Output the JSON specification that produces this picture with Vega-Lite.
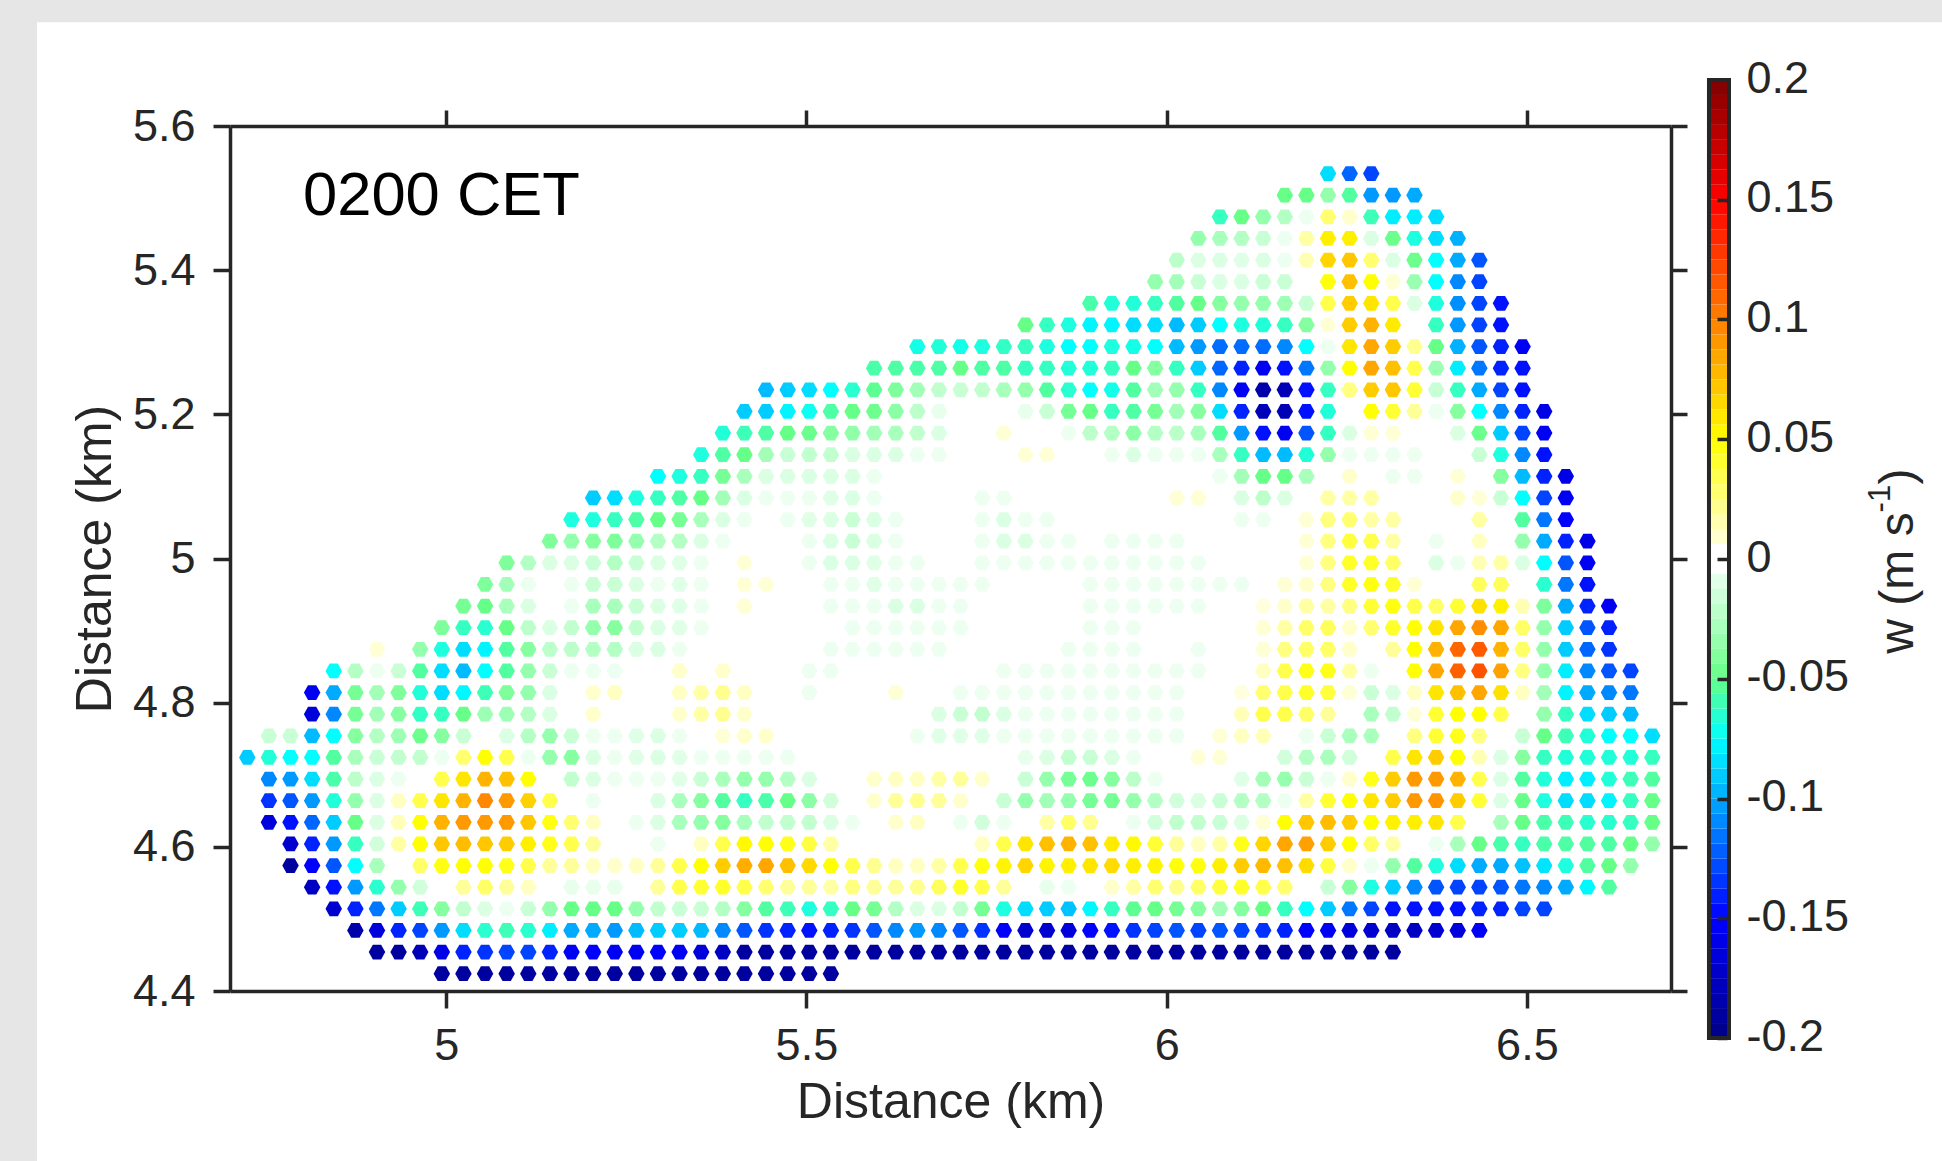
{"$schema":"https://vega.github.io/schema/vega-lite/v6.json","width":1441,"height":865,"autosize":{"type":"none"},"padding":{"left":230,"top":126,"right":271,"bottom":170},"background":"#e6e6e6","config":{"view":{"stroke":null},"font":"Liberation Sans","axis":{"grid":false,"domainColor":"#262626","domainWidth":3.5,"tickColor":"#262626","tickWidth":3.5,"labelColor":"#262626","titleColor":"#262626","labelFont":"Liberation Sans","titleFont":"Liberation Sans","labelFontSize":45,"titleFontSize":50,"titleFontWeight":"normal","labelOverlap":false,"labelFlush":false,"labelExpr":"''+datum.value"}},"resolve":{"scale":{"y":"independent"},"axis":{"x":"independent","y":"independent"}},"layer":[
{"data":{"values":[{"p":"panel"}]},"mark":{"type":"rect","fill":"#ffffff"},"encoding":{"x":{"datum":4.4321,"type":"quantitative","scale":{"domain":[4.7,6.7],"nice":false,"zero":false},"axis":null},"x2":{"datum":7.2},"y":{"datum":5.744,"type":"quantitative","scale":{"domain":[4.4,5.6],"nice":false,"zero":false},"axis":null},"y2":{"datum":4.1}}},
{"data":{"values":[
{"x":4.994,"y":4.424,"w":-0.19},{"x":5.024,"y":4.424,"w":-0.19},{"x":5.054,"y":4.424,"w":-0.19},{"x":5.084,"y":4.424,"w":-0.19},{"x":5.114,"y":4.424,"w":-0.19},{"x":5.144,"y":4.424,"w":-0.19},{"x":5.174,"y":4.424,"w":-0.19},{"x":5.204,"y":4.424,"w":-0.19},{"x":5.234,"y":4.424,"w":-0.19},{"x":5.264,"y":4.424,"w":-0.19},{"x":5.294,"y":4.424,"w":-0.19},{"x":5.324,"y":4.424,"w":-0.19},{"x":5.354,"y":4.424,"w":-0.19},{"x":5.384,"y":4.424,"w":-0.19},{"x":5.414,"y":4.424,"w":-0.19},{"x":5.444,"y":4.424,"w":-0.19},{"x":5.474,"y":4.424,"w":-0.19},{"x":5.504,"y":4.424,"w":-0.19},{"x":5.534,"y":4.424,"w":-0.19},
{"x":4.904,"y":4.454,"w":-0.19},{"x":4.934,"y":4.454,"w":-0.19},{"x":4.964,"y":4.454,"w":-0.18},{"x":4.994,"y":4.454,"w":-0.16},{"x":5.024,"y":4.454,"w":-0.14},{"x":5.054,"y":4.454,"w":-0.135},{"x":5.084,"y":4.454,"w":-0.13},{"x":5.114,"y":4.454,"w":-0.13},{"x":5.144,"y":4.454,"w":-0.14},{"x":5.174,"y":4.454,"w":-0.155},{"x":5.204,"y":4.454,"w":-0.15},{"x":5.234,"y":4.454,"w":-0.155},{"x":5.264,"y":4.454,"w":-0.155},{"x":5.294,"y":4.454,"w":-0.15},{"x":5.324,"y":4.454,"w":-0.155},{"x":5.354,"y":4.454,"w":-0.165},{"x":5.384,"y":4.454,"w":-0.175},{"x":5.414,"y":4.454,"w":-0.19},{"x":5.444,"y":4.454,"w":-0.19},{"x":5.474,"y":4.454,"w":-0.19},{"x":5.504,"y":4.454,"w":-0.19},{"x":5.534,"y":4.454,"w":-0.19},{"x":5.564,"y":4.454,"w":-0.19},{"x":5.594,"y":4.454,"w":-0.19},{"x":5.624,"y":4.454,"w":-0.19},{"x":5.654,"y":4.454,"w":-0.19},{"x":5.684,"y":4.454,"w":-0.19},{"x":5.714,"y":4.454,"w":-0.19},{"x":5.744,"y":4.454,"w":-0.19},{"x":5.774,"y":4.454,"w":-0.19},{"x":5.804,"y":4.454,"w":-0.19},{"x":5.834,"y":4.454,"w":-0.19},{"x":5.864,"y":4.454,"w":-0.19},{"x":5.894,"y":4.454,"w":-0.19},{"x":5.924,"y":4.454,"w":-0.19},{"x":5.954,"y":4.454,"w":-0.19},{"x":5.984,"y":4.454,"w":-0.19},{"x":6.014,"y":4.454,"w":-0.19},{"x":6.044,"y":4.454,"w":-0.19},{"x":6.074,"y":4.454,"w":-0.19},{"x":6.104,"y":4.454,"w":-0.19},{"x":6.134,"y":4.454,"w":-0.19},{"x":6.164,"y":4.454,"w":-0.19},{"x":6.194,"y":4.454,"w":-0.19},{"x":6.224,"y":4.454,"w":-0.19},{"x":6.254,"y":4.454,"w":-0.19},{"x":6.284,"y":4.454,"w":-0.19},{"x":6.314,"y":4.454,"w":-0.19},
{"x":4.874,"y":4.484,"w":-0.185},{"x":4.904,"y":4.484,"w":-0.165},{"x":4.934,"y":4.484,"w":-0.14},{"x":4.964,"y":4.484,"w":-0.13},{"x":4.994,"y":4.484,"w":-0.105},{"x":5.024,"y":4.484,"w":-0.085},{"x":5.054,"y":4.484,"w":-0.065},{"x":5.084,"y":4.484,"w":-0.06},{"x":5.114,"y":4.484,"w":-0.065},{"x":5.144,"y":4.484,"w":-0.08},{"x":5.174,"y":4.484,"w":-0.1},{"x":5.204,"y":4.484,"w":-0.1},{"x":5.234,"y":4.484,"w":-0.105},{"x":5.264,"y":4.484,"w":-0.095},{"x":5.294,"y":4.484,"w":-0.09},{"x":5.324,"y":4.484,"w":-0.09},{"x":5.354,"y":4.484,"w":-0.095},{"x":5.384,"y":4.484,"w":-0.11},{"x":5.414,"y":4.484,"w":-0.125},{"x":5.444,"y":4.484,"w":-0.135},{"x":5.474,"y":4.484,"w":-0.14},{"x":5.504,"y":4.484,"w":-0.145},{"x":5.534,"y":4.484,"w":-0.14},{"x":5.564,"y":4.484,"w":-0.135},{"x":5.594,"y":4.484,"w":-0.125},{"x":5.624,"y":4.484,"w":-0.11},{"x":5.654,"y":4.484,"w":-0.105},{"x":5.684,"y":4.484,"w":-0.11},{"x":5.714,"y":4.484,"w":-0.125},{"x":5.744,"y":4.484,"w":-0.135},{"x":5.774,"y":4.484,"w":-0.15},{"x":5.804,"y":4.484,"w":-0.17},{"x":5.834,"y":4.484,"w":-0.17},{"x":5.864,"y":4.484,"w":-0.165},{"x":5.894,"y":4.484,"w":-0.15},{"x":5.924,"y":4.484,"w":-0.145},{"x":5.954,"y":4.484,"w":-0.135},{"x":5.984,"y":4.484,"w":-0.13},{"x":6.014,"y":4.484,"w":-0.125},{"x":6.044,"y":4.484,"w":-0.13},{"x":6.074,"y":4.484,"w":-0.125},{"x":6.104,"y":4.484,"w":-0.13},{"x":6.134,"y":4.484,"w":-0.135},{"x":6.164,"y":4.484,"w":-0.14},{"x":6.194,"y":4.484,"w":-0.15},{"x":6.224,"y":4.484,"w":-0.155},{"x":6.254,"y":4.484,"w":-0.165},{"x":6.284,"y":4.484,"w":-0.17},{"x":6.314,"y":4.484,"w":-0.175},{"x":6.344,"y":4.484,"w":-0.175},{"x":6.374,"y":4.484,"w":-0.17},{"x":6.404,"y":4.484,"w":-0.165},{"x":6.434,"y":4.484,"w":-0.155},
{"x":4.844,"y":4.514,"w":-0.17},{"x":4.874,"y":4.514,"w":-0.14},{"x":4.904,"y":4.514,"w":-0.115},{"x":4.934,"y":4.514,"w":-0.09},{"x":4.964,"y":4.514,"w":-0.06},{"x":4.994,"y":4.514,"w":-0.04},{"x":5.024,"y":4.514,"w":-0.02},{"x":5.054,"y":4.514,"w":-0.012},{"x":5.084,"y":4.514,"w":-0.006},{"x":5.114,"y":4.514,"w":-0.018},{"x":5.144,"y":4.514,"w":-0.035},{"x":5.174,"y":4.514,"w":-0.05},{"x":5.204,"y":4.514,"w":-0.05},{"x":5.234,"y":4.514,"w":-0.05},{"x":5.264,"y":4.514,"w":-0.035},{"x":5.294,"y":4.514,"w":-0.02},{"x":5.324,"y":4.514,"w":-0.018},{"x":5.354,"y":4.514,"w":-0.018},{"x":5.384,"y":4.514,"w":-0.025},{"x":5.414,"y":4.514,"w":-0.04},{"x":5.444,"y":4.514,"w":-0.055},{"x":5.474,"y":4.514,"w":-0.06},{"x":5.504,"y":4.514,"w":-0.068},{"x":5.534,"y":4.514,"w":-0.062},{"x":5.564,"y":4.514,"w":-0.05},{"x":5.594,"y":4.514,"w":-0.045},{"x":5.624,"y":4.514,"w":-0.025},{"x":5.654,"y":4.514,"w":-0.012},{"x":5.684,"y":4.514,"w":-0.012},{"x":5.714,"y":4.514,"w":-0.02},{"x":5.744,"y":4.514,"w":-0.045},{"x":5.774,"y":4.514,"w":-0.068},{"x":5.804,"y":4.514,"w":-0.085},{"x":5.834,"y":4.514,"w":-0.09},{"x":5.864,"y":4.514,"w":-0.093},{"x":5.894,"y":4.514,"w":-0.077},{"x":5.924,"y":4.514,"w":-0.062},{"x":5.954,"y":4.514,"w":-0.052},{"x":5.984,"y":4.514,"w":-0.05},{"x":6.014,"y":4.514,"w":-0.045},{"x":6.044,"y":4.514,"w":-0.04},{"x":6.074,"y":4.514,"w":-0.03},{"x":6.104,"y":4.514,"w":-0.04},{"x":6.134,"y":4.514,"w":-0.05},{"x":6.164,"y":4.514,"w":-0.062},{"x":6.194,"y":4.514,"w":-0.075},{"x":6.224,"y":4.514,"w":-0.09},{"x":6.254,"y":4.514,"w":-0.115},{"x":6.284,"y":4.514,"w":-0.13},{"x":6.314,"y":4.514,"w":-0.145},{"x":6.344,"y":4.514,"w":-0.145},{"x":6.374,"y":4.514,"w":-0.145},{"x":6.404,"y":4.514,"w":-0.145},{"x":6.434,"y":4.514,"w":-0.14},{"x":6.464,"y":4.514,"w":-0.14},{"x":6.494,"y":4.514,"w":-0.13},{"x":6.524,"y":4.514,"w":-0.13},
{"x":4.814,"y":4.544,"w":-0.175},{"x":4.844,"y":4.544,"w":-0.145},{"x":4.874,"y":4.544,"w":-0.105},{"x":4.904,"y":4.544,"w":-0.065},{"x":4.934,"y":4.544,"w":-0.035},{"x":4.964,"y":4.544,"w":-0.015},{"x":5.024,"y":4.544,"w":0.02},{"x":5.054,"y":4.544,"w":0.03},{"x":5.084,"y":4.544,"w":0.02},{"x":5.114,"y":4.544,"w":0.012},{"x":5.174,"y":4.544,"w":-0.008},{"x":5.204,"y":4.544,"w":-0.008},{"x":5.234,"y":4.544,"w":-0.008},{"x":5.294,"y":4.544,"w":0.02},{"x":5.324,"y":4.544,"w":0.035},{"x":5.354,"y":4.544,"w":0.04},{"x":5.384,"y":4.544,"w":0.042},{"x":5.414,"y":4.544,"w":0.035},{"x":5.444,"y":4.544,"w":0.028},{"x":5.474,"y":4.544,"w":0.02},{"x":5.504,"y":4.544,"w":0.02},{"x":5.534,"y":4.544,"w":0.018},{"x":5.564,"y":4.544,"w":0.025},{"x":5.594,"y":4.544,"w":0.02},{"x":5.624,"y":4.544,"w":0.02},{"x":5.654,"y":4.544,"w":0.022},{"x":5.684,"y":4.544,"w":0.032},{"x":5.714,"y":4.544,"w":0.042},{"x":5.744,"y":4.544,"w":0.035},{"x":5.774,"y":4.544,"w":0.02},{"x":5.834,"y":4.544,"w":-0.008},{"x":5.864,"y":4.544,"w":-0.006},{"x":5.924,"y":4.544,"w":0.01},{"x":5.954,"y":4.544,"w":0.018},{"x":5.984,"y":4.544,"w":0.028},{"x":6.014,"y":4.544,"w":0.022},{"x":6.044,"y":4.544,"w":0.03},{"x":6.074,"y":4.544,"w":0.038},{"x":6.104,"y":4.544,"w":0.042},{"x":6.134,"y":4.544,"w":0.035},{"x":6.164,"y":4.544,"w":0.028},{"x":6.224,"y":4.544,"w":-0.018},{"x":6.254,"y":4.544,"w":-0.04},{"x":6.284,"y":4.544,"w":-0.068},{"x":6.314,"y":4.544,"w":-0.09},{"x":6.344,"y":4.544,"w":-0.11},{"x":6.374,"y":4.544,"w":-0.125},{"x":6.404,"y":4.544,"w":-0.13},{"x":6.434,"y":4.544,"w":-0.13},{"x":6.464,"y":4.544,"w":-0.125},{"x":6.494,"y":4.544,"w":-0.115},{"x":6.524,"y":4.544,"w":-0.11},{"x":6.554,"y":4.544,"w":-0.1},{"x":6.584,"y":4.544,"w":-0.077},{"x":6.614,"y":4.544,"w":-0.055},
{"x":4.784,"y":4.574,"w":-0.19},{"x":4.814,"y":4.574,"w":-0.15},{"x":4.844,"y":4.574,"w":-0.125},{"x":4.874,"y":4.574,"w":-0.075},{"x":4.904,"y":4.574,"w":-0.028},{"x":4.964,"y":4.574,"w":0.03},{"x":4.994,"y":4.574,"w":0.047},{"x":5.024,"y":4.574,"w":0.05},{"x":5.054,"y":4.574,"w":0.05},{"x":5.084,"y":4.574,"w":0.045},{"x":5.114,"y":4.574,"w":0.035},{"x":5.144,"y":4.574,"w":0.02},{"x":5.174,"y":4.574,"w":0.02},{"x":5.204,"y":4.574,"w":0.012},{"x":5.234,"y":4.574,"w":0.01},{"x":5.264,"y":4.574,"w":0.012},{"x":5.294,"y":4.574,"w":0.02},{"x":5.324,"y":4.574,"w":0.035},{"x":5.354,"y":4.574,"w":0.05},{"x":5.384,"y":4.574,"w":0.07},{"x":5.414,"y":4.574,"w":0.082},{"x":5.444,"y":4.574,"w":0.085},{"x":5.474,"y":4.574,"w":0.075},{"x":5.504,"y":4.574,"w":0.065},{"x":5.534,"y":4.574,"w":0.05},{"x":5.564,"y":4.574,"w":0.035},{"x":5.594,"y":4.574,"w":0.022},{"x":5.624,"y":4.574,"w":0.012},{"x":5.654,"y":4.574,"w":0.012},{"x":5.684,"y":4.574,"w":0.018},{"x":5.714,"y":4.574,"w":0.035},{"x":5.744,"y":4.574,"w":0.047},{"x":5.774,"y":4.574,"w":0.054},{"x":5.804,"y":4.574,"w":0.066},{"x":5.834,"y":4.574,"w":0.054},{"x":5.864,"y":4.574,"w":0.056},{"x":5.894,"y":4.574,"w":0.06},{"x":5.924,"y":4.574,"w":0.064},{"x":5.954,"y":4.574,"w":0.056},{"x":5.984,"y":4.574,"w":0.054},{"x":6.014,"y":4.574,"w":0.048},{"x":6.044,"y":4.574,"w":0.048},{"x":6.074,"y":4.574,"w":0.056},{"x":6.104,"y":4.574,"w":0.07},{"x":6.134,"y":4.574,"w":0.077},{"x":6.164,"y":4.574,"w":0.075},{"x":6.194,"y":4.574,"w":0.064},{"x":6.224,"y":4.574,"w":0.037},{"x":6.254,"y":4.574,"w":0.01},{"x":6.284,"y":4.574,"w":-0.006},{"x":6.314,"y":4.574,"w":-0.035},{"x":6.344,"y":4.574,"w":-0.055},{"x":6.374,"y":4.574,"w":-0.068},{"x":6.404,"y":4.574,"w":-0.085},{"x":6.434,"y":4.574,"w":-0.1},{"x":6.464,"y":4.574,"w":-0.1},{"x":6.494,"y":4.574,"w":-0.093},{"x":6.524,"y":4.574,"w":-0.083},{"x":6.554,"y":4.574,"w":-0.068},{"x":6.584,"y":4.574,"w":-0.055},{"x":6.614,"y":4.574,"w":-0.05},{"x":6.644,"y":4.574,"w":-0.035},
{"x":4.784,"y":4.604,"w":-0.17},{"x":4.814,"y":4.604,"w":-0.14},{"x":4.844,"y":4.604,"w":-0.105},{"x":4.874,"y":4.604,"w":-0.062},{"x":4.904,"y":4.604,"w":-0.015},{"x":4.934,"y":4.604,"w":0.018},{"x":4.964,"y":4.604,"w":0.05},{"x":4.994,"y":4.604,"w":0.072},{"x":5.024,"y":4.604,"w":0.076},{"x":5.054,"y":4.604,"w":0.072},{"x":5.084,"y":4.604,"w":0.07},{"x":5.114,"y":4.604,"w":0.056},{"x":5.144,"y":4.604,"w":0.045},{"x":5.174,"y":4.604,"w":0.035},{"x":5.204,"y":4.604,"w":0.02},{"x":5.294,"y":4.604,"w":-0.006},{"x":5.354,"y":4.604,"w":0.012},{"x":5.384,"y":4.604,"w":0.035},{"x":5.414,"y":4.604,"w":0.052},{"x":5.444,"y":4.604,"w":0.05},{"x":5.474,"y":4.604,"w":0.045},{"x":5.504,"y":4.604,"w":0.037},{"x":5.534,"y":4.604,"w":0.018},{"x":5.744,"y":4.604,"w":0.012},{"x":5.774,"y":4.604,"w":0.035},{"x":5.804,"y":4.604,"w":0.06},{"x":5.834,"y":4.604,"w":0.075},{"x":5.864,"y":4.604,"w":0.08},{"x":5.894,"y":4.604,"w":0.075},{"x":5.924,"y":4.604,"w":0.058},{"x":5.954,"y":4.604,"w":0.052},{"x":5.984,"y":4.604,"w":0.04},{"x":6.014,"y":4.604,"w":0.02},{"x":6.044,"y":4.604,"w":0.012},{"x":6.074,"y":4.604,"w":0.018},{"x":6.104,"y":4.604,"w":0.045},{"x":6.134,"y":4.604,"w":0.066},{"x":6.164,"y":4.604,"w":0.085},{"x":6.194,"y":4.604,"w":0.087},{"x":6.224,"y":4.604,"w":0.07},{"x":6.254,"y":4.604,"w":0.05},{"x":6.284,"y":4.604,"w":0.03},{"x":6.314,"y":4.604,"w":0.018},{"x":6.374,"y":4.604,"w":-0.006},{"x":6.404,"y":4.604,"w":-0.028},{"x":6.434,"y":4.604,"w":-0.05},{"x":6.464,"y":4.604,"w":-0.057},{"x":6.494,"y":4.604,"w":-0.062},{"x":6.524,"y":4.604,"w":-0.057},{"x":6.554,"y":4.604,"w":-0.056},{"x":6.584,"y":4.604,"w":-0.055},{"x":6.614,"y":4.604,"w":-0.056},{"x":6.644,"y":4.604,"w":-0.05},{"x":6.674,"y":4.604,"w":-0.035},
{"x":4.754,"y":4.634,"w":-0.165},{"x":4.784,"y":4.634,"w":-0.145},{"x":4.814,"y":4.634,"w":-0.12},{"x":4.844,"y":4.634,"w":-0.09},{"x":4.874,"y":4.634,"w":-0.05},{"x":4.904,"y":4.634,"w":-0.012},{"x":4.934,"y":4.634,"w":0.014},{"x":4.964,"y":4.634,"w":0.05},{"x":4.994,"y":4.634,"w":0.08},{"x":5.024,"y":4.634,"w":0.09},{"x":5.054,"y":4.634,"w":0.09},{"x":5.084,"y":4.634,"w":0.09},{"x":5.114,"y":4.634,"w":0.072},{"x":5.144,"y":4.634,"w":0.047},{"x":5.174,"y":4.634,"w":0.028},{"x":5.204,"y":4.634,"w":0.012},{"x":5.264,"y":4.634,"w":-0.006},{"x":5.294,"y":4.634,"w":-0.012},{"x":5.324,"y":4.634,"w":-0.028},{"x":5.354,"y":4.634,"w":-0.035},{"x":5.384,"y":4.634,"w":-0.04},{"x":5.414,"y":4.634,"w":-0.028},{"x":5.444,"y":4.634,"w":-0.02},{"x":5.474,"y":4.634,"w":-0.02},{"x":5.504,"y":4.634,"w":-0.02},{"x":5.534,"y":4.634,"w":-0.012},{"x":5.564,"y":4.634,"w":-0.006},{"x":5.624,"y":4.634,"w":0.01},{"x":5.654,"y":4.634,"w":0.012},{"x":5.714,"y":4.634,"w":-0.006},{"x":5.744,"y":4.634,"w":-0.015},{"x":5.774,"y":4.634,"w":-0.006},{"x":5.834,"y":4.634,"w":0.018},{"x":5.864,"y":4.634,"w":0.03},{"x":5.894,"y":4.634,"w":0.022},{"x":5.954,"y":4.634,"w":-0.006},{"x":5.984,"y":4.634,"w":-0.015},{"x":6.014,"y":4.634,"w":-0.02},{"x":6.044,"y":4.634,"w":-0.02},{"x":6.074,"y":4.634,"w":-0.018},{"x":6.104,"y":4.634,"w":-0.012},{"x":6.134,"y":4.634,"w":0.008},{"x":6.164,"y":4.634,"w":0.05},{"x":6.194,"y":4.634,"w":0.072},{"x":6.224,"y":4.634,"w":0.076},{"x":6.254,"y":4.634,"w":0.07},{"x":6.284,"y":4.634,"w":0.05},{"x":6.314,"y":4.634,"w":0.055},{"x":6.344,"y":4.634,"w":0.056},{"x":6.374,"y":4.634,"w":0.06},{"x":6.404,"y":4.634,"w":0.035},{"x":6.464,"y":4.634,"w":-0.028},{"x":6.494,"y":4.634,"w":-0.05},{"x":6.524,"y":4.634,"w":-0.057},{"x":6.554,"y":4.634,"w":-0.06},{"x":6.584,"y":4.634,"w":-0.065},{"x":6.614,"y":4.634,"w":-0.065},{"x":6.644,"y":4.634,"w":-0.062},{"x":6.674,"y":4.634,"w":-0.05},
{"x":4.754,"y":4.664,"w":-0.135},{"x":4.784,"y":4.664,"w":-0.125},{"x":4.814,"y":4.664,"w":-0.105},{"x":4.844,"y":4.664,"w":-0.067},{"x":4.874,"y":4.664,"w":-0.035},{"x":4.904,"y":4.664,"w":-0.012},{"x":4.934,"y":4.664,"w":0.012},{"x":4.964,"y":4.664,"w":0.035},{"x":4.994,"y":4.664,"w":0.06},{"x":5.024,"y":4.664,"w":0.08},{"x":5.054,"y":4.664,"w":0.097},{"x":5.084,"y":4.664,"w":0.09},{"x":5.114,"y":4.664,"w":0.068},{"x":5.144,"y":4.664,"w":0.035},{"x":5.204,"y":4.664,"w":-0.006},{"x":5.294,"y":4.664,"w":-0.012},{"x":5.324,"y":4.664,"w":-0.028},{"x":5.354,"y":4.664,"w":-0.04},{"x":5.384,"y":4.664,"w":-0.055},{"x":5.414,"y":4.664,"w":-0.062},{"x":5.444,"y":4.664,"w":-0.057},{"x":5.474,"y":4.664,"w":-0.05},{"x":5.504,"y":4.664,"w":-0.038},{"x":5.534,"y":4.664,"w":-0.015},{"x":5.594,"y":4.664,"w":0.01},{"x":5.624,"y":4.664,"w":0.02},{"x":5.654,"y":4.664,"w":0.022},{"x":5.684,"y":4.664,"w":0.02},{"x":5.714,"y":4.664,"w":0.01},{"x":5.774,"y":4.664,"w":-0.018},{"x":5.804,"y":4.664,"w":-0.035},{"x":5.834,"y":4.664,"w":-0.03},{"x":5.864,"y":4.664,"w":-0.035},{"x":5.894,"y":4.664,"w":-0.045},{"x":5.924,"y":4.664,"w":-0.045},{"x":5.954,"y":4.664,"w":-0.035},{"x":5.984,"y":4.664,"w":-0.025},{"x":6.014,"y":4.664,"w":-0.015},{"x":6.044,"y":4.664,"w":-0.012},{"x":6.074,"y":4.664,"w":-0.018},{"x":6.104,"y":4.664,"w":-0.025},{"x":6.134,"y":4.664,"w":-0.025},{"x":6.164,"y":4.664,"w":-0.006},{"x":6.194,"y":4.664,"w":0.018},{"x":6.224,"y":4.664,"w":0.04},{"x":6.254,"y":4.664,"w":0.05},{"x":6.284,"y":4.664,"w":0.06},{"x":6.314,"y":4.664,"w":0.07},{"x":6.344,"y":4.664,"w":0.09},{"x":6.374,"y":4.664,"w":0.092},{"x":6.404,"y":4.664,"w":0.07},{"x":6.434,"y":4.664,"w":0.04},{"x":6.464,"y":4.664,"w":-0.012},{"x":6.494,"y":4.664,"w":-0.05},{"x":6.524,"y":4.664,"w":-0.068},{"x":6.554,"y":4.664,"w":-0.085},{"x":6.584,"y":4.664,"w":-0.085},{"x":6.614,"y":4.664,"w":-0.078},{"x":6.644,"y":4.664,"w":-0.062},{"x":6.674,"y":4.664,"w":-0.05},
{"x":4.754,"y":4.694,"w":-0.11},{"x":4.784,"y":4.694,"w":-0.105},{"x":4.814,"y":4.694,"w":-0.085},{"x":4.844,"y":4.694,"w":-0.057},{"x":4.874,"y":4.694,"w":-0.022},{"x":4.904,"y":4.694,"w":-0.012},{"x":4.934,"y":4.694,"w":-0.006},{"x":4.994,"y":4.694,"w":0.035},{"x":5.024,"y":4.694,"w":0.06},{"x":5.054,"y":4.694,"w":0.08},{"x":5.084,"y":4.694,"w":0.075},{"x":5.114,"y":4.694,"w":0.05},{"x":5.174,"y":4.694,"w":-0.02},{"x":5.204,"y":4.694,"w":-0.012},{"x":5.234,"y":4.694,"w":-0.006},{"x":5.264,"y":4.694,"w":-0.006},{"x":5.294,"y":4.694,"w":-0.006},{"x":5.324,"y":4.694,"w":-0.01},{"x":5.354,"y":4.694,"w":-0.018},{"x":5.384,"y":4.694,"w":-0.028},{"x":5.414,"y":4.694,"w":-0.035},{"x":5.444,"y":4.694,"w":-0.035},{"x":5.474,"y":4.694,"w":-0.025},{"x":5.504,"y":4.694,"w":-0.012},{"x":5.594,"y":4.694,"w":0.01},{"x":5.624,"y":4.694,"w":0.012},{"x":5.654,"y":4.694,"w":0.012},{"x":5.684,"y":4.694,"w":0.018},{"x":5.714,"y":4.694,"w":0.02},{"x":5.744,"y":4.694,"w":0.01},{"x":5.804,"y":4.694,"w":-0.018},{"x":5.834,"y":4.694,"w":-0.035},{"x":5.864,"y":4.694,"w":-0.045},{"x":5.894,"y":4.694,"w":-0.048},{"x":5.924,"y":4.694,"w":-0.04},{"x":5.954,"y":4.694,"w":-0.022},{"x":5.984,"y":4.694,"w":-0.006},{"x":6.104,"y":4.694,"w":-0.01},{"x":6.134,"y":4.694,"w":-0.03},{"x":6.164,"y":4.694,"w":-0.035},{"x":6.194,"y":4.694,"w":-0.018},{"x":6.224,"y":4.694,"w":-0.006},{"x":6.254,"y":4.694,"w":0.01},{"x":6.284,"y":4.694,"w":0.045},{"x":6.314,"y":4.694,"w":0.07},{"x":6.344,"y":4.694,"w":0.09},{"x":6.374,"y":4.694,"w":0.09},{"x":6.404,"y":4.694,"w":0.08},{"x":6.434,"y":4.694,"w":0.035},{"x":6.464,"y":4.694,"w":-0.012},{"x":6.494,"y":4.694,"w":-0.055},{"x":6.524,"y":4.694,"w":-0.067},{"x":6.554,"y":4.694,"w":-0.08},{"x":6.584,"y":4.694,"w":-0.08},{"x":6.614,"y":4.694,"w":-0.067},{"x":6.644,"y":4.694,"w":-0.06},{"x":6.674,"y":4.694,"w":-0.055},
{"x":4.724,"y":4.724,"w":-0.09},{"x":4.754,"y":4.724,"w":-0.067},{"x":4.784,"y":4.724,"w":-0.075},{"x":4.814,"y":4.724,"w":-0.075},{"x":4.844,"y":4.724,"w":-0.055},{"x":4.874,"y":4.724,"w":-0.028},{"x":4.904,"y":4.724,"w":-0.018},{"x":4.934,"y":4.724,"w":-0.02},{"x":4.964,"y":4.724,"w":-0.02},{"x":4.994,"y":4.724,"w":-0.006},{"x":5.024,"y":4.724,"w":0.028},{"x":5.054,"y":4.724,"w":0.05},{"x":5.084,"y":4.724,"w":0.035},{"x":5.114,"y":4.724,"w":-0.006},{"x":5.144,"y":4.724,"w":-0.035},{"x":5.174,"y":4.724,"w":-0.04},{"x":5.204,"y":4.724,"w":-0.012},{"x":5.234,"y":4.724,"w":-0.006},{"x":5.264,"y":4.724,"w":-0.01},{"x":5.294,"y":4.724,"w":-0.012},{"x":5.324,"y":4.724,"w":-0.01},{"x":5.354,"y":4.724,"w":-0.006},{"x":5.384,"y":4.724,"w":-0.006},{"x":5.414,"y":4.724,"w":-0.006},{"x":5.444,"y":4.724,"w":-0.006},{"x":5.474,"y":4.724,"w":-0.006},{"x":5.804,"y":4.724,"w":-0.008},{"x":5.834,"y":4.724,"w":-0.012},{"x":5.864,"y":4.724,"w":-0.02},{"x":5.894,"y":4.724,"w":-0.018},{"x":5.924,"y":4.724,"w":-0.012},{"x":5.954,"y":4.724,"w":-0.006},{"x":6.044,"y":4.724,"w":0.008},{"x":6.074,"y":4.724,"w":0.008},{"x":6.164,"y":4.724,"w":-0.015},{"x":6.194,"y":4.724,"w":-0.025},{"x":6.224,"y":4.724,"w":-0.028},{"x":6.254,"y":4.724,"w":-0.015},{"x":6.314,"y":4.724,"w":0.035},{"x":6.344,"y":4.724,"w":0.06},{"x":6.374,"y":4.724,"w":0.07},{"x":6.404,"y":4.724,"w":0.05},{"x":6.434,"y":4.724,"w":0.015},{"x":6.464,"y":4.724,"w":-0.012},{"x":6.494,"y":4.724,"w":-0.04},{"x":6.524,"y":4.724,"w":-0.062},{"x":6.554,"y":4.724,"w":-0.067},{"x":6.584,"y":4.724,"w":-0.067},{"x":6.614,"y":4.724,"w":-0.067},{"x":6.644,"y":4.724,"w":-0.067},{"x":6.674,"y":4.724,"w":-0.062},
{"x":4.754,"y":4.754,"w":-0.018},{"x":4.784,"y":4.754,"w":-0.018},{"x":4.814,"y":4.754,"w":-0.095},{"x":4.844,"y":4.754,"w":-0.075},{"x":4.874,"y":4.754,"w":-0.04},{"x":4.904,"y":4.754,"w":-0.025},{"x":4.934,"y":4.754,"w":-0.032},{"x":4.964,"y":4.754,"w":-0.048},{"x":4.994,"y":4.754,"w":-0.04},{"x":5.024,"y":4.754,"w":-0.018},{"x":5.084,"y":4.754,"w":-0.012},{"x":5.114,"y":4.754,"w":-0.025},{"x":5.144,"y":4.754,"w":-0.035},{"x":5.174,"y":4.754,"w":-0.018},{"x":5.204,"y":4.754,"w":-0.006},{"x":5.234,"y":4.754,"w":-0.006},{"x":5.264,"y":4.754,"w":-0.01},{"x":5.294,"y":4.754,"w":-0.012},{"x":5.324,"y":4.754,"w":-0.006},{"x":5.384,"y":4.754,"w":0.008},{"x":5.414,"y":4.754,"w":0.01},{"x":5.444,"y":4.754,"w":0.01},{"x":5.654,"y":4.754,"w":-0.006},{"x":5.684,"y":4.754,"w":-0.01},{"x":5.714,"y":4.754,"w":-0.01},{"x":5.744,"y":4.754,"w":-0.01},{"x":5.774,"y":4.754,"w":-0.006},{"x":5.804,"y":4.754,"w":-0.006},{"x":5.834,"y":4.754,"w":-0.006},{"x":5.864,"y":4.754,"w":-0.006},{"x":5.894,"y":4.754,"w":-0.006},{"x":5.924,"y":4.754,"w":-0.006},{"x":5.954,"y":4.754,"w":-0.006},{"x":5.984,"y":4.754,"w":-0.006},{"x":6.014,"y":4.754,"w":-0.006},{"x":6.074,"y":4.754,"w":0.008},{"x":6.104,"y":4.754,"w":0.012},{"x":6.134,"y":4.754,"w":0.014},{"x":6.194,"y":4.754,"w":-0.006},{"x":6.224,"y":4.754,"w":-0.018},{"x":6.254,"y":4.754,"w":-0.028},{"x":6.284,"y":4.754,"w":-0.028},{"x":6.344,"y":4.754,"w":0.025},{"x":6.374,"y":4.754,"w":0.04},{"x":6.404,"y":4.754,"w":0.045},{"x":6.434,"y":4.754,"w":0.025},{"x":6.494,"y":4.754,"w":-0.018},{"x":6.524,"y":4.754,"w":-0.05},{"x":6.554,"y":4.754,"w":-0.06},{"x":6.584,"y":4.754,"w":-0.067},{"x":6.614,"y":4.754,"w":-0.075},{"x":6.644,"y":4.754,"w":-0.075},{"x":6.674,"y":4.754,"w":-0.085},
{"x":4.814,"y":4.784,"w":-0.165},{"x":4.844,"y":4.784,"w":-0.11},{"x":4.874,"y":4.784,"w":-0.045},{"x":4.904,"y":4.784,"w":-0.03},{"x":4.934,"y":4.784,"w":-0.04},{"x":4.964,"y":4.784,"w":-0.063},{"x":4.994,"y":4.784,"w":-0.062},{"x":5.024,"y":4.784,"w":-0.05},{"x":5.054,"y":4.784,"w":-0.032},{"x":5.084,"y":4.784,"w":-0.032},{"x":5.114,"y":4.784,"w":-0.025},{"x":5.144,"y":4.784,"w":-0.012},{"x":5.204,"y":4.784,"w":0.01},{"x":5.324,"y":4.784,"w":0.01},{"x":5.354,"y":4.784,"w":0.018},{"x":5.384,"y":4.784,"w":0.022},{"x":5.414,"y":4.784,"w":0.01},{"x":5.684,"y":4.784,"w":-0.012},{"x":5.714,"y":4.784,"w":-0.018},{"x":5.744,"y":4.784,"w":-0.02},{"x":5.774,"y":4.784,"w":-0.012},{"x":5.804,"y":4.784,"w":-0.006},{"x":5.834,"y":4.784,"w":-0.006},{"x":5.864,"y":4.784,"w":-0.006},{"x":5.894,"y":4.784,"w":-0.006},{"x":5.924,"y":4.784,"w":-0.006},{"x":5.954,"y":4.784,"w":-0.006},{"x":5.984,"y":4.784,"w":-0.006},{"x":6.014,"y":4.784,"w":-0.006},{"x":6.104,"y":4.784,"w":0.014},{"x":6.134,"y":4.784,"w":0.035},{"x":6.164,"y":4.784,"w":0.035},{"x":6.194,"y":4.784,"w":0.03},{"x":6.224,"y":4.784,"w":0.02},{"x":6.284,"y":4.784,"w":-0.028},{"x":6.314,"y":4.784,"w":-0.02},{"x":6.344,"y":4.784,"w":0.008},{"x":6.374,"y":4.784,"w":0.04},{"x":6.404,"y":4.784,"w":0.05},{"x":6.434,"y":4.784,"w":0.05},{"x":6.464,"y":4.784,"w":0.035},{"x":6.524,"y":4.784,"w":-0.035},{"x":6.554,"y":4.784,"w":-0.062},{"x":6.584,"y":4.784,"w":-0.085},{"x":6.614,"y":4.784,"w":-0.09},{"x":6.644,"y":4.784,"w":-0.095},
{"x":4.814,"y":4.814,"w":-0.155},{"x":4.844,"y":4.814,"w":-0.1},{"x":4.874,"y":4.814,"w":-0.045},{"x":4.904,"y":4.814,"w":-0.03},{"x":4.934,"y":4.814,"w":-0.042},{"x":4.964,"y":4.814,"w":-0.067},{"x":4.994,"y":4.814,"w":-0.085},{"x":5.024,"y":4.814,"w":-0.077},{"x":5.054,"y":4.814,"w":-0.06},{"x":5.084,"y":4.814,"w":-0.042},{"x":5.114,"y":4.814,"w":-0.035},{"x":5.144,"y":4.814,"w":-0.012},{"x":5.204,"y":4.814,"w":0.01},{"x":5.234,"y":4.814,"w":0.012},{"x":5.324,"y":4.814,"w":0.012},{"x":5.354,"y":4.814,"w":0.018},{"x":5.384,"y":4.814,"w":0.022},{"x":5.414,"y":4.814,"w":0.012},{"x":5.504,"y":4.814,"w":-0.006},{"x":5.624,"y":4.814,"w":0.008},{"x":5.714,"y":4.814,"w":-0.006},{"x":5.744,"y":4.814,"w":-0.006},{"x":5.774,"y":4.814,"w":-0.006},{"x":5.804,"y":4.814,"w":-0.006},{"x":5.834,"y":4.814,"w":-0.006},{"x":5.864,"y":4.814,"w":-0.006},{"x":5.894,"y":4.814,"w":-0.006},{"x":5.924,"y":4.814,"w":-0.006},{"x":5.954,"y":4.814,"w":-0.006},{"x":5.984,"y":4.814,"w":-0.006},{"x":6.014,"y":4.814,"w":-0.006},{"x":6.104,"y":4.814,"w":0.006},{"x":6.134,"y":4.814,"w":0.028},{"x":6.164,"y":4.814,"w":0.035},{"x":6.194,"y":4.814,"w":0.042},{"x":6.224,"y":4.814,"w":0.038},{"x":6.254,"y":4.814,"w":0.008},{"x":6.284,"y":4.814,"w":-0.018},{"x":6.314,"y":4.814,"w":-0.012},{"x":6.344,"y":4.814,"w":0.012},{"x":6.374,"y":4.814,"w":0.06},{"x":6.404,"y":4.814,"w":0.075},{"x":6.434,"y":4.814,"w":0.085},{"x":6.464,"y":4.814,"w":0.062},{"x":6.494,"y":4.814,"w":0.012},{"x":6.524,"y":4.814,"w":-0.03},{"x":6.554,"y":4.814,"w":-0.078},{"x":6.584,"y":4.814,"w":-0.1},{"x":6.614,"y":4.814,"w":-0.11},{"x":6.644,"y":4.814,"w":-0.115},
{"x":4.844,"y":4.844,"w":-0.075},{"x":4.874,"y":4.844,"w":-0.025},{"x":4.904,"y":4.844,"w":-0.006},{"x":4.934,"y":4.844,"w":-0.018},{"x":4.964,"y":4.844,"w":-0.055},{"x":4.994,"y":4.844,"w":-0.085},{"x":5.024,"y":4.844,"w":-0.095},{"x":5.054,"y":4.844,"w":-0.075},{"x":5.084,"y":4.844,"w":-0.055},{"x":5.114,"y":4.844,"w":-0.035},{"x":5.144,"y":4.844,"w":-0.018},{"x":5.174,"y":4.844,"w":-0.006},{"x":5.204,"y":4.844,"w":-0.006},{"x":5.234,"y":4.844,"w":-0.006},{"x":5.324,"y":4.844,"w":0.01},{"x":5.384,"y":4.844,"w":0.01},{"x":5.504,"y":4.844,"w":-0.006},{"x":5.534,"y":4.844,"w":-0.006},{"x":5.774,"y":4.844,"w":-0.006},{"x":5.804,"y":4.844,"w":-0.006},{"x":5.834,"y":4.844,"w":-0.006},{"x":5.864,"y":4.844,"w":-0.006},{"x":5.894,"y":4.844,"w":-0.006},{"x":5.924,"y":4.844,"w":-0.006},{"x":5.954,"y":4.844,"w":-0.006},{"x":5.984,"y":4.844,"w":-0.006},{"x":6.014,"y":4.844,"w":-0.006},{"x":6.044,"y":4.844,"w":-0.006},{"x":6.134,"y":4.844,"w":0.012},{"x":6.164,"y":4.844,"w":0.035},{"x":6.194,"y":4.844,"w":0.045},{"x":6.224,"y":4.844,"w":0.045},{"x":6.254,"y":4.844,"w":0.018},{"x":6.284,"y":4.844,"w":-0.006},{"x":6.344,"y":4.844,"w":0.05},{"x":6.374,"y":4.844,"w":0.085},{"x":6.404,"y":4.844,"w":0.112},{"x":6.434,"y":4.844,"w":0.118},{"x":6.464,"y":4.844,"w":0.087},{"x":6.494,"y":4.844,"w":0.025},{"x":6.524,"y":4.844,"w":-0.035},{"x":6.554,"y":4.844,"w":-0.08},{"x":6.584,"y":4.844,"w":-0.11},{"x":6.614,"y":4.844,"w":-0.125},{"x":6.644,"y":4.844,"w":-0.13},
{"x":4.904,"y":4.874,"w":0.008},{"x":4.964,"y":4.874,"w":-0.035},{"x":4.994,"y":4.874,"w":-0.068},{"x":5.024,"y":4.874,"w":-0.085},{"x":5.054,"y":4.874,"w":-0.078},{"x":5.084,"y":4.874,"w":-0.055},{"x":5.114,"y":4.874,"w":-0.04},{"x":5.144,"y":4.874,"w":-0.022},{"x":5.174,"y":4.874,"w":-0.022},{"x":5.204,"y":4.874,"w":-0.025},{"x":5.234,"y":4.874,"w":-0.025},{"x":5.264,"y":4.874,"w":-0.012},{"x":5.294,"y":4.874,"w":-0.012},{"x":5.324,"y":4.874,"w":-0.006},{"x":5.534,"y":4.874,"w":-0.006},{"x":5.564,"y":4.874,"w":-0.006},{"x":5.594,"y":4.874,"w":-0.006},{"x":5.624,"y":4.874,"w":-0.006},{"x":5.654,"y":4.874,"w":-0.006},{"x":5.684,"y":4.874,"w":-0.006},{"x":5.864,"y":4.874,"w":-0.006},{"x":5.894,"y":4.874,"w":-0.006},{"x":5.924,"y":4.874,"w":-0.006},{"x":5.954,"y":4.874,"w":-0.006},{"x":6.044,"y":4.874,"w":-0.006},{"x":6.134,"y":4.874,"w":0.008},{"x":6.164,"y":4.874,"w":0.025},{"x":6.194,"y":4.874,"w":0.03},{"x":6.224,"y":4.874,"w":0.03},{"x":6.254,"y":4.874,"w":0.01},{"x":6.314,"y":4.874,"w":0.02},{"x":6.344,"y":4.874,"w":0.05},{"x":6.374,"y":4.874,"w":0.08},{"x":6.404,"y":4.874,"w":0.11},{"x":6.434,"y":4.874,"w":0.115},{"x":6.464,"y":4.874,"w":0.08},{"x":6.494,"y":4.874,"w":0.03},{"x":6.524,"y":4.874,"w":-0.035},{"x":6.554,"y":4.874,"w":-0.09},{"x":6.584,"y":4.874,"w":-0.12},{"x":6.614,"y":4.874,"w":-0.135},
{"x":4.994,"y":4.904,"w":-0.042},{"x":5.024,"y":4.904,"w":-0.062},{"x":5.054,"y":4.904,"w":-0.065},{"x":5.084,"y":4.904,"w":-0.05},{"x":5.114,"y":4.904,"w":-0.022},{"x":5.144,"y":4.904,"w":-0.012},{"x":5.174,"y":4.904,"w":-0.02},{"x":5.204,"y":4.904,"w":-0.035},{"x":5.234,"y":4.904,"w":-0.04},{"x":5.264,"y":4.904,"w":-0.02},{"x":5.294,"y":4.904,"w":-0.012},{"x":5.324,"y":4.904,"w":-0.01},{"x":5.354,"y":4.904,"w":-0.006},{"x":5.564,"y":4.904,"w":-0.006},{"x":5.594,"y":4.904,"w":-0.006},{"x":5.624,"y":4.904,"w":-0.006},{"x":5.654,"y":4.904,"w":-0.006},{"x":5.684,"y":4.904,"w":-0.006},{"x":5.714,"y":4.904,"w":-0.006},{"x":5.894,"y":4.904,"w":-0.006},{"x":5.924,"y":4.904,"w":-0.006},{"x":5.954,"y":4.904,"w":-0.006},{"x":6.134,"y":4.904,"w":0.008},{"x":6.164,"y":4.904,"w":0.018},{"x":6.194,"y":4.904,"w":0.03},{"x":6.224,"y":4.904,"w":0.032},{"x":6.254,"y":4.904,"w":0.01},{"x":6.284,"y":4.904,"w":0.028},{"x":6.314,"y":4.904,"w":0.042},{"x":6.344,"y":4.904,"w":0.05},{"x":6.374,"y":4.904,"w":0.06},{"x":6.404,"y":4.904,"w":0.085},{"x":6.434,"y":4.904,"w":0.095},{"x":6.464,"y":4.904,"w":0.085},{"x":6.494,"y":4.904,"w":0.03},{"x":6.524,"y":4.904,"w":-0.035},{"x":6.554,"y":4.904,"w":-0.09},{"x":6.584,"y":4.904,"w":-0.125},{"x":6.614,"y":4.904,"w":-0.14},
{"x":5.024,"y":4.934,"w":-0.045},{"x":5.054,"y":4.934,"w":-0.05},{"x":5.084,"y":4.934,"w":-0.028},{"x":5.114,"y":4.934,"w":-0.012},{"x":5.174,"y":4.934,"w":-0.006},{"x":5.204,"y":4.934,"w":-0.028},{"x":5.234,"y":4.934,"w":-0.028},{"x":5.264,"y":4.934,"w":-0.018},{"x":5.294,"y":4.934,"w":-0.012},{"x":5.324,"y":4.934,"w":-0.01},{"x":5.354,"y":4.934,"w":-0.006},{"x":5.414,"y":4.934,"w":0.008},{"x":5.534,"y":4.934,"w":-0.006},{"x":5.564,"y":4.934,"w":-0.006},{"x":5.594,"y":4.934,"w":-0.006},{"x":5.624,"y":4.934,"w":-0.012},{"x":5.654,"y":4.934,"w":-0.012},{"x":5.684,"y":4.934,"w":-0.006},{"x":5.714,"y":4.934,"w":-0.006},{"x":5.894,"y":4.934,"w":-0.006},{"x":5.924,"y":4.934,"w":-0.006},{"x":5.954,"y":4.934,"w":-0.006},{"x":5.984,"y":4.934,"w":-0.006},{"x":6.014,"y":4.934,"w":-0.006},{"x":6.044,"y":4.934,"w":-0.006},{"x":6.134,"y":4.934,"w":0.006},{"x":6.164,"y":4.934,"w":0.01},{"x":6.194,"y":4.934,"w":0.018},{"x":6.224,"y":4.934,"w":0.018},{"x":6.254,"y":4.934,"w":0.025},{"x":6.284,"y":4.934,"w":0.04},{"x":6.314,"y":4.934,"w":0.047},{"x":6.344,"y":4.934,"w":0.035},{"x":6.374,"y":4.934,"w":0.03},{"x":6.404,"y":4.934,"w":0.04},{"x":6.434,"y":4.934,"w":0.062},{"x":6.464,"y":4.934,"w":0.055},{"x":6.494,"y":4.934,"w":0.015},{"x":6.524,"y":4.934,"w":-0.042},{"x":6.554,"y":4.934,"w":-0.1},{"x":6.584,"y":4.934,"w":-0.14},{"x":6.614,"y":4.934,"w":-0.155},
{"x":5.054,"y":4.964,"w":-0.042},{"x":5.084,"y":4.964,"w":-0.03},{"x":5.114,"y":4.964,"w":-0.006},{"x":5.174,"y":4.964,"w":-0.006},{"x":5.204,"y":4.964,"w":-0.018},{"x":5.234,"y":4.964,"w":-0.018},{"x":5.264,"y":4.964,"w":-0.012},{"x":5.294,"y":4.964,"w":-0.006},{"x":5.324,"y":4.964,"w":-0.01},{"x":5.354,"y":4.964,"w":-0.006},{"x":5.414,"y":4.964,"w":0.008},{"x":5.444,"y":4.964,"w":0.008},{"x":5.534,"y":4.964,"w":-0.006},{"x":5.564,"y":4.964,"w":-0.006},{"x":5.594,"y":4.964,"w":-0.01},{"x":5.624,"y":4.964,"w":-0.006},{"x":5.654,"y":4.964,"w":-0.006},{"x":5.684,"y":4.964,"w":-0.006},{"x":5.714,"y":4.964,"w":-0.006},{"x":5.744,"y":4.964,"w":-0.006},{"x":5.894,"y":4.964,"w":-0.006},{"x":5.924,"y":4.964,"w":-0.006},{"x":5.954,"y":4.964,"w":-0.006},{"x":5.984,"y":4.964,"w":-0.006},{"x":6.014,"y":4.964,"w":-0.006},{"x":6.044,"y":4.964,"w":-0.006},{"x":6.074,"y":4.964,"w":-0.006},{"x":6.104,"y":4.964,"w":-0.006},{"x":6.164,"y":4.964,"w":0.008},{"x":6.194,"y":4.964,"w":0.01},{"x":6.224,"y":4.964,"w":0.025},{"x":6.254,"y":4.964,"w":0.042},{"x":6.284,"y":4.964,"w":0.047},{"x":6.314,"y":4.964,"w":0.042},{"x":6.344,"y":4.964,"w":0.008},{"x":6.434,"y":4.964,"w":0.032},{"x":6.464,"y":4.964,"w":0.032},{"x":6.524,"y":4.964,"w":-0.065},{"x":6.554,"y":4.964,"w":-0.115},{"x":6.584,"y":4.964,"w":-0.145},
{"x":5.084,"y":4.994,"w":-0.042},{"x":5.114,"y":4.994,"w":-0.025},{"x":5.144,"y":4.994,"w":-0.012},{"x":5.174,"y":4.994,"w":-0.012},{"x":5.204,"y":4.994,"w":-0.018},{"x":5.234,"y":4.994,"w":-0.025},{"x":5.264,"y":4.994,"w":-0.018},{"x":5.294,"y":4.994,"w":-0.012},{"x":5.324,"y":4.994,"w":-0.01},{"x":5.354,"y":4.994,"w":-0.006},{"x":5.414,"y":4.994,"w":0.008},{"x":5.504,"y":4.994,"w":-0.006},{"x":5.534,"y":4.994,"w":-0.012},{"x":5.564,"y":4.994,"w":-0.012},{"x":5.594,"y":4.994,"w":-0.01},{"x":5.624,"y":4.994,"w":-0.006},{"x":5.654,"y":4.994,"w":-0.006},{"x":5.744,"y":4.994,"w":-0.006},{"x":5.774,"y":4.994,"w":-0.006},{"x":5.804,"y":4.994,"w":-0.006},{"x":5.834,"y":4.994,"w":-0.006},{"x":5.864,"y":4.994,"w":-0.006},{"x":5.894,"y":4.994,"w":-0.006},{"x":5.924,"y":4.994,"w":-0.006},{"x":5.954,"y":4.994,"w":-0.006},{"x":5.984,"y":4.994,"w":-0.006},{"x":6.014,"y":4.994,"w":-0.006},{"x":6.044,"y":4.994,"w":-0.006},{"x":6.194,"y":4.994,"w":0.008},{"x":6.224,"y":4.994,"w":0.025},{"x":6.254,"y":4.994,"w":0.042},{"x":6.284,"y":4.994,"w":0.042},{"x":6.314,"y":4.994,"w":0.03},{"x":6.374,"y":4.994,"w":-0.012},{"x":6.404,"y":4.994,"w":-0.006},{"x":6.434,"y":4.994,"w":0.015},{"x":6.464,"y":4.994,"w":0.018},{"x":6.494,"y":4.994,"w":-0.012},{"x":6.524,"y":4.994,"w":-0.075},{"x":6.554,"y":4.994,"w":-0.125},{"x":6.584,"y":4.994,"w":-0.155},
{"x":5.144,"y":5.024,"w":-0.042},{"x":5.174,"y":5.024,"w":-0.035},{"x":5.204,"y":5.024,"w":-0.04},{"x":5.234,"y":5.024,"w":-0.042},{"x":5.264,"y":5.024,"w":-0.035},{"x":5.294,"y":5.024,"w":-0.025},{"x":5.324,"y":5.024,"w":-0.025},{"x":5.354,"y":5.024,"w":-0.012},{"x":5.384,"y":5.024,"w":-0.006},{"x":5.504,"y":5.024,"w":-0.006},{"x":5.534,"y":5.024,"w":-0.012},{"x":5.564,"y":5.024,"w":-0.018},{"x":5.594,"y":5.024,"w":-0.012},{"x":5.624,"y":5.024,"w":-0.006},{"x":5.744,"y":5.024,"w":-0.006},{"x":5.774,"y":5.024,"w":-0.012},{"x":5.804,"y":5.024,"w":-0.012},{"x":5.834,"y":5.024,"w":-0.006},{"x":5.864,"y":5.024,"w":-0.006},{"x":5.924,"y":5.024,"w":-0.006},{"x":5.954,"y":5.024,"w":-0.006},{"x":5.984,"y":5.024,"w":-0.006},{"x":6.014,"y":5.024,"w":-0.006},{"x":6.194,"y":5.024,"w":0.008},{"x":6.224,"y":5.024,"w":0.025},{"x":6.254,"y":5.024,"w":0.038},{"x":6.284,"y":5.024,"w":0.035},{"x":6.314,"y":5.024,"w":0.018},{"x":6.374,"y":5.024,"w":-0.006},{"x":6.434,"y":5.024,"w":0.012},{"x":6.494,"y":5.024,"w":-0.035},{"x":6.524,"y":5.024,"w":-0.1},{"x":6.554,"y":5.024,"w":-0.14},{"x":6.584,"y":5.024,"w":-0.16},
{"x":5.174,"y":5.054,"w":-0.068},{"x":5.204,"y":5.054,"w":-0.068},{"x":5.234,"y":5.054,"w":-0.062},{"x":5.264,"y":5.054,"w":-0.056},{"x":5.294,"y":5.054,"w":-0.05},{"x":5.324,"y":5.054,"w":-0.045},{"x":5.354,"y":5.054,"w":-0.028},{"x":5.384,"y":5.054,"w":-0.012},{"x":5.414,"y":5.054,"w":-0.006},{"x":5.474,"y":5.054,"w":-0.006},{"x":5.504,"y":5.054,"w":-0.01},{"x":5.534,"y":5.054,"w":-0.012},{"x":5.564,"y":5.054,"w":-0.018},{"x":5.594,"y":5.054,"w":-0.012},{"x":5.624,"y":5.054,"w":-0.006},{"x":5.744,"y":5.054,"w":-0.006},{"x":5.774,"y":5.054,"w":-0.012},{"x":5.804,"y":5.054,"w":-0.006},{"x":5.834,"y":5.054,"w":-0.006},{"x":6.104,"y":5.054,"w":-0.006},{"x":6.134,"y":5.054,"w":-0.006},{"x":6.194,"y":5.054,"w":0.008},{"x":6.224,"y":5.054,"w":0.025},{"x":6.254,"y":5.054,"w":0.028},{"x":6.284,"y":5.054,"w":0.018},{"x":6.314,"y":5.054,"w":0.018},{"x":6.434,"y":5.054,"w":0.018},{"x":6.494,"y":5.054,"w":-0.055},{"x":6.524,"y":5.054,"w":-0.115},{"x":6.554,"y":5.054,"w":-0.15},
{"x":5.204,"y":5.084,"w":-0.09},{"x":5.234,"y":5.084,"w":-0.085},{"x":5.264,"y":5.084,"w":-0.068},{"x":5.294,"y":5.084,"w":-0.062},{"x":5.324,"y":5.084,"w":-0.056},{"x":5.354,"y":5.084,"w":-0.05},{"x":5.384,"y":5.084,"w":-0.03},{"x":5.414,"y":5.084,"w":-0.012},{"x":5.444,"y":5.084,"w":-0.006},{"x":5.474,"y":5.084,"w":-0.006},{"x":5.504,"y":5.084,"w":-0.006},{"x":5.534,"y":5.084,"w":-0.01},{"x":5.564,"y":5.084,"w":-0.012},{"x":5.594,"y":5.084,"w":-0.006},{"x":5.744,"y":5.084,"w":-0.006},{"x":5.774,"y":5.084,"w":-0.006},{"x":6.014,"y":5.084,"w":0.008},{"x":6.044,"y":5.084,"w":0.008},{"x":6.104,"y":5.084,"w":-0.012},{"x":6.134,"y":5.084,"w":-0.022},{"x":6.164,"y":5.084,"w":-0.012},{"x":6.224,"y":5.084,"w":0.018},{"x":6.254,"y":5.084,"w":0.018},{"x":6.284,"y":5.084,"w":0.018},{"x":6.404,"y":5.084,"w":0.01},{"x":6.434,"y":5.084,"w":0.008},{"x":6.464,"y":5.084,"w":-0.018},{"x":6.494,"y":5.084,"w":-0.075},{"x":6.524,"y":5.084,"w":-0.13},{"x":6.554,"y":5.084,"w":-0.155},
{"x":5.294,"y":5.114,"w":-0.075},{"x":5.324,"y":5.114,"w":-0.068},{"x":5.354,"y":5.114,"w":-0.062},{"x":5.384,"y":5.114,"w":-0.045},{"x":5.414,"y":5.114,"w":-0.028},{"x":5.444,"y":5.114,"w":-0.012},{"x":5.474,"y":5.114,"w":-0.012},{"x":5.504,"y":5.114,"w":-0.012},{"x":5.534,"y":5.114,"w":-0.012},{"x":5.564,"y":5.114,"w":-0.012},{"x":5.594,"y":5.114,"w":-0.006},{"x":6.074,"y":5.114,"w":-0.006},{"x":6.104,"y":5.114,"w":-0.03},{"x":6.134,"y":5.114,"w":-0.05},{"x":6.164,"y":5.114,"w":-0.05},{"x":6.194,"y":5.114,"w":-0.028},{"x":6.254,"y":5.114,"w":0.01},{"x":6.314,"y":5.114,"w":-0.006},{"x":6.344,"y":5.114,"w":-0.006},{"x":6.404,"y":5.114,"w":0.008},{"x":6.464,"y":5.114,"w":-0.04},{"x":6.494,"y":5.114,"w":-0.095},{"x":6.524,"y":5.114,"w":-0.14},{"x":6.554,"y":5.114,"w":-0.16},
{"x":5.354,"y":5.144,"w":-0.068},{"x":5.384,"y":5.144,"w":-0.056},{"x":5.414,"y":5.144,"w":-0.05},{"x":5.444,"y":5.144,"w":-0.03},{"x":5.474,"y":5.144,"w":-0.018},{"x":5.504,"y":5.144,"w":-0.02},{"x":5.534,"y":5.144,"w":-0.02},{"x":5.564,"y":5.144,"w":-0.012},{"x":5.594,"y":5.144,"w":-0.012},{"x":5.624,"y":5.144,"w":-0.012},{"x":5.654,"y":5.144,"w":-0.006},{"x":5.684,"y":5.144,"w":-0.006},{"x":5.804,"y":5.144,"w":0.008},{"x":5.834,"y":5.144,"w":0.008},{"x":5.924,"y":5.144,"w":-0.006},{"x":5.954,"y":5.144,"w":-0.012},{"x":5.984,"y":5.144,"w":-0.006},{"x":6.014,"y":5.144,"w":-0.006},{"x":6.044,"y":5.144,"w":-0.006},{"x":6.074,"y":5.144,"w":-0.028},{"x":6.104,"y":5.144,"w":-0.062},{"x":6.134,"y":5.144,"w":-0.095},{"x":6.164,"y":5.144,"w":-0.095},{"x":6.194,"y":5.144,"w":-0.067},{"x":6.224,"y":5.144,"w":-0.035},{"x":6.254,"y":5.144,"w":-0.006},{"x":6.284,"y":5.144,"w":-0.006},{"x":6.314,"y":5.144,"w":-0.006},{"x":6.344,"y":5.144,"w":-0.006},{"x":6.434,"y":5.144,"w":-0.018},{"x":6.464,"y":5.144,"w":-0.068},{"x":6.494,"y":5.144,"w":-0.11},{"x":6.524,"y":5.144,"w":-0.145},
{"x":5.384,"y":5.174,"w":-0.067},{"x":5.414,"y":5.174,"w":-0.06},{"x":5.444,"y":5.174,"w":-0.056},{"x":5.474,"y":5.174,"w":-0.05},{"x":5.504,"y":5.174,"w":-0.048},{"x":5.534,"y":5.174,"w":-0.04},{"x":5.564,"y":5.174,"w":-0.036},{"x":5.594,"y":5.174,"w":-0.03},{"x":5.624,"y":5.174,"w":-0.028},{"x":5.654,"y":5.174,"w":-0.02},{"x":5.684,"y":5.174,"w":-0.012},{"x":5.774,"y":5.174,"w":0.008},{"x":5.864,"y":5.174,"w":-0.006},{"x":5.894,"y":5.174,"w":-0.022},{"x":5.924,"y":5.174,"w":-0.025},{"x":5.954,"y":5.174,"w":-0.037},{"x":5.984,"y":5.174,"w":-0.025},{"x":6.014,"y":5.174,"w":-0.022},{"x":6.044,"y":5.174,"w":-0.028},{"x":6.074,"y":5.174,"w":-0.055},{"x":6.104,"y":5.174,"w":-0.105},{"x":6.134,"y":5.174,"w":-0.145},{"x":6.164,"y":5.174,"w":-0.155},{"x":6.194,"y":5.174,"w":-0.125},{"x":6.224,"y":5.174,"w":-0.062},{"x":6.254,"y":5.174,"w":-0.012},{"x":6.284,"y":5.174,"w":0.008},{"x":6.314,"y":5.174,"w":0.008},{"x":6.404,"y":5.174,"w":-0.012},{"x":6.434,"y":5.174,"w":-0.048},{"x":6.464,"y":5.174,"w":-0.09},{"x":6.494,"y":5.174,"w":-0.13},{"x":6.524,"y":5.174,"w":-0.155},
{"x":5.414,"y":5.204,"w":-0.09},{"x":5.444,"y":5.204,"w":-0.09},{"x":5.474,"y":5.204,"w":-0.078},{"x":5.504,"y":5.204,"w":-0.072},{"x":5.534,"y":5.204,"w":-0.056},{"x":5.564,"y":5.204,"w":-0.05},{"x":5.594,"y":5.204,"w":-0.047},{"x":5.624,"y":5.204,"w":-0.038},{"x":5.654,"y":5.204,"w":-0.022},{"x":5.684,"y":5.204,"w":-0.008},{"x":5.804,"y":5.204,"w":-0.008},{"x":5.834,"y":5.204,"w":-0.018},{"x":5.864,"y":5.204,"w":-0.045},{"x":5.894,"y":5.204,"w":-0.05},{"x":5.924,"y":5.204,"w":-0.062},{"x":5.954,"y":5.204,"w":-0.056},{"x":5.984,"y":5.204,"w":-0.045},{"x":6.014,"y":5.204,"w":-0.03},{"x":6.044,"y":5.204,"w":-0.04},{"x":6.074,"y":5.204,"w":-0.085},{"x":6.104,"y":5.204,"w":-0.14},{"x":6.134,"y":5.204,"w":-0.18},{"x":6.164,"y":5.204,"w":-0.18},{"x":6.194,"y":5.204,"w":-0.145},{"x":6.224,"y":5.204,"w":-0.067},{"x":6.284,"y":5.204,"w":0.05},{"x":6.314,"y":5.204,"w":0.04},{"x":6.344,"y":5.204,"w":0.02},{"x":6.374,"y":5.204,"w":-0.006},{"x":6.404,"y":5.204,"w":-0.04},{"x":6.434,"y":5.204,"w":-0.075},{"x":6.464,"y":5.204,"w":-0.11},{"x":6.494,"y":5.204,"w":-0.14},{"x":6.524,"y":5.204,"w":-0.16},
{"x":5.444,"y":5.234,"w":-0.095},{"x":5.474,"y":5.234,"w":-0.09},{"x":5.504,"y":5.234,"w":-0.085},{"x":5.534,"y":5.234,"w":-0.075},{"x":5.564,"y":5.234,"w":-0.065},{"x":5.594,"y":5.234,"w":-0.052},{"x":5.624,"y":5.234,"w":-0.042},{"x":5.654,"y":5.234,"w":-0.03},{"x":5.684,"y":5.234,"w":-0.02},{"x":5.714,"y":5.234,"w":-0.018},{"x":5.744,"y":5.234,"w":-0.02},{"x":5.774,"y":5.234,"w":-0.028},{"x":5.804,"y":5.234,"w":-0.035},{"x":5.834,"y":5.234,"w":-0.055},{"x":5.864,"y":5.234,"w":-0.065},{"x":5.894,"y":5.234,"w":-0.075},{"x":5.924,"y":5.234,"w":-0.07},{"x":5.954,"y":5.234,"w":-0.055},{"x":5.984,"y":5.234,"w":-0.03},{"x":6.014,"y":5.234,"w":-0.035},{"x":6.044,"y":5.234,"w":-0.062},{"x":6.074,"y":5.234,"w":-0.11},{"x":6.104,"y":5.234,"w":-0.155},{"x":6.134,"y":5.234,"w":-0.185},{"x":6.164,"y":5.234,"w":-0.18},{"x":6.194,"y":5.234,"w":-0.145},{"x":6.224,"y":5.234,"w":-0.062},{"x":6.254,"y":5.234,"w":0.025},{"x":6.284,"y":5.234,"w":0.07},{"x":6.314,"y":5.234,"w":0.072},{"x":6.344,"y":5.234,"w":0.04},{"x":6.374,"y":5.234,"w":-0.018},{"x":6.404,"y":5.234,"w":-0.062},{"x":6.434,"y":5.234,"w":-0.1},{"x":6.464,"y":5.234,"w":-0.13},{"x":6.494,"y":5.234,"w":-0.145},
{"x":5.594,"y":5.264,"w":-0.057},{"x":5.624,"y":5.264,"w":-0.056},{"x":5.654,"y":5.264,"w":-0.057},{"x":5.684,"y":5.264,"w":-0.056},{"x":5.714,"y":5.264,"w":-0.05},{"x":5.744,"y":5.264,"w":-0.056},{"x":5.774,"y":5.264,"w":-0.056},{"x":5.804,"y":5.264,"w":-0.062},{"x":5.834,"y":5.264,"w":-0.062},{"x":5.864,"y":5.264,"w":-0.067},{"x":5.894,"y":5.264,"w":-0.067},{"x":5.924,"y":5.264,"w":-0.062},{"x":5.954,"y":5.264,"w":-0.05},{"x":5.984,"y":5.264,"w":-0.04},{"x":6.014,"y":5.264,"w":-0.062},{"x":6.044,"y":5.264,"w":-0.09},{"x":6.074,"y":5.264,"w":-0.12},{"x":6.104,"y":5.264,"w":-0.14},{"x":6.134,"y":5.264,"w":-0.155},{"x":6.164,"y":5.264,"w":-0.145},{"x":6.194,"y":5.264,"w":-0.115},{"x":6.224,"y":5.264,"w":-0.035},{"x":6.254,"y":5.264,"w":0.05},{"x":6.284,"y":5.264,"w":0.085},{"x":6.314,"y":5.264,"w":0.075},{"x":6.344,"y":5.264,"w":0.035},{"x":6.374,"y":5.264,"w":-0.032},{"x":6.404,"y":5.264,"w":-0.08},{"x":6.434,"y":5.264,"w":-0.115},{"x":6.464,"y":5.264,"w":-0.14},{"x":6.494,"y":5.264,"w":-0.145},
{"x":5.654,"y":5.294,"w":-0.07},{"x":5.684,"y":5.294,"w":-0.067},{"x":5.714,"y":5.294,"w":-0.07},{"x":5.744,"y":5.294,"w":-0.068},{"x":5.774,"y":5.294,"w":-0.063},{"x":5.804,"y":5.294,"w":-0.062},{"x":5.834,"y":5.294,"w":-0.068},{"x":5.864,"y":5.294,"w":-0.075},{"x":5.894,"y":5.294,"w":-0.075},{"x":5.924,"y":5.294,"w":-0.068},{"x":5.954,"y":5.294,"w":-0.07},{"x":5.984,"y":5.294,"w":-0.075},{"x":6.014,"y":5.294,"w":-0.095},{"x":6.044,"y":5.294,"w":-0.105},{"x":6.074,"y":5.294,"w":-0.118},{"x":6.104,"y":5.294,"w":-0.118},{"x":6.134,"y":5.294,"w":-0.118},{"x":6.164,"y":5.294,"w":-0.11},{"x":6.194,"y":5.294,"w":-0.075},{"x":6.224,"y":5.294,"w":-0.006},{"x":6.254,"y":5.294,"w":0.06},{"x":6.284,"y":5.294,"w":0.085},{"x":6.314,"y":5.294,"w":0.07},{"x":6.344,"y":5.294,"w":0.022},{"x":6.374,"y":5.294,"w":-0.05},{"x":6.404,"y":5.294,"w":-0.098},{"x":6.434,"y":5.294,"w":-0.125},{"x":6.464,"y":5.294,"w":-0.14},{"x":6.494,"y":5.294,"w":-0.155},
{"x":5.804,"y":5.324,"w":-0.05},{"x":5.834,"y":5.324,"w":-0.062},{"x":5.864,"y":5.324,"w":-0.068},{"x":5.894,"y":5.324,"w":-0.078},{"x":5.924,"y":5.324,"w":-0.078},{"x":5.954,"y":5.324,"w":-0.085},{"x":5.984,"y":5.324,"w":-0.085},{"x":6.014,"y":5.324,"w":-0.095},{"x":6.044,"y":5.324,"w":-0.09},{"x":6.074,"y":5.324,"w":-0.075},{"x":6.104,"y":5.324,"w":-0.068},{"x":6.134,"y":5.324,"w":-0.067},{"x":6.164,"y":5.324,"w":-0.062},{"x":6.194,"y":5.324,"w":-0.04},{"x":6.224,"y":5.324,"w":0.008},{"x":6.254,"y":5.324,"w":0.07},{"x":6.284,"y":5.324,"w":0.08},{"x":6.314,"y":5.324,"w":0.058},{"x":6.374,"y":5.324,"w":-0.062},{"x":6.404,"y":5.324,"w":-0.105},{"x":6.434,"y":5.324,"w":-0.13},{"x":6.464,"y":5.324,"w":-0.145},
{"x":5.894,"y":5.354,"w":-0.057},{"x":5.924,"y":5.354,"w":-0.067},{"x":5.954,"y":5.354,"w":-0.067},{"x":5.984,"y":5.354,"w":-0.062},{"x":6.014,"y":5.354,"w":-0.055},{"x":6.044,"y":5.354,"w":-0.05},{"x":6.074,"y":5.354,"w":-0.04},{"x":6.104,"y":5.354,"w":-0.035},{"x":6.134,"y":5.354,"w":-0.035},{"x":6.164,"y":5.354,"w":-0.032},{"x":6.194,"y":5.354,"w":-0.018},{"x":6.224,"y":5.354,"w":0.035},{"x":6.254,"y":5.354,"w":0.07},{"x":6.284,"y":5.354,"w":0.06},{"x":6.314,"y":5.354,"w":0.035},{"x":6.344,"y":5.354,"w":-0.012},{"x":6.374,"y":5.354,"w":-0.068},{"x":6.404,"y":5.354,"w":-0.108},{"x":6.434,"y":5.354,"w":-0.13},{"x":6.464,"y":5.354,"w":-0.145},
{"x":5.984,"y":5.384,"w":-0.035},{"x":6.014,"y":5.384,"w":-0.03},{"x":6.044,"y":5.384,"w":-0.018},{"x":6.074,"y":5.384,"w":-0.012},{"x":6.104,"y":5.384,"w":-0.012},{"x":6.134,"y":5.384,"w":-0.018},{"x":6.164,"y":5.384,"w":-0.018},{"x":6.224,"y":5.384,"w":0.048},{"x":6.254,"y":5.384,"w":0.075},{"x":6.284,"y":5.384,"w":0.05},{"x":6.314,"y":5.384,"w":0.008},{"x":6.344,"y":5.384,"w":-0.033},{"x":6.374,"y":5.384,"w":-0.075},{"x":6.404,"y":5.384,"w":-0.11},{"x":6.434,"y":5.384,"w":-0.13},
{"x":6.014,"y":5.414,"w":-0.022},{"x":6.044,"y":5.414,"w":-0.012},{"x":6.074,"y":5.414,"w":-0.012},{"x":6.104,"y":5.414,"w":-0.01},{"x":6.134,"y":5.414,"w":-0.012},{"x":6.164,"y":5.414,"w":-0.006},{"x":6.194,"y":5.414,"w":0.015},{"x":6.224,"y":5.414,"w":0.066},{"x":6.254,"y":5.414,"w":0.072},{"x":6.284,"y":5.414,"w":0.028},{"x":6.314,"y":5.414,"w":-0.012},{"x":6.344,"y":5.414,"w":-0.048},{"x":6.374,"y":5.414,"w":-0.075},{"x":6.404,"y":5.414,"w":-0.1},{"x":6.434,"y":5.414,"w":-0.125},
{"x":6.044,"y":5.444,"w":-0.035},{"x":6.074,"y":5.444,"w":-0.028},{"x":6.104,"y":5.444,"w":-0.025},{"x":6.134,"y":5.444,"w":-0.018},{"x":6.164,"y":5.444,"w":-0.006},{"x":6.194,"y":5.444,"w":0.018},{"x":6.224,"y":5.444,"w":0.056},{"x":6.254,"y":5.444,"w":0.056},{"x":6.284,"y":5.444,"w":-0.012},{"x":6.314,"y":5.444,"w":-0.048},{"x":6.344,"y":5.444,"w":-0.068},{"x":6.374,"y":5.444,"w":-0.085},{"x":6.404,"y":5.444,"w":-0.098},
{"x":6.074,"y":5.474,"w":-0.062},{"x":6.104,"y":5.474,"w":-0.05},{"x":6.134,"y":5.474,"w":-0.035},{"x":6.164,"y":5.474,"w":-0.025},{"x":6.194,"y":5.474,"w":-0.006},{"x":6.224,"y":5.474,"w":0.028},{"x":6.254,"y":5.474,"w":0.01},{"x":6.284,"y":5.474,"w":-0.06},{"x":6.314,"y":5.474,"w":-0.08},{"x":6.344,"y":5.474,"w":-0.08},{"x":6.374,"y":5.474,"w":-0.085},
{"x":6.164,"y":5.504,"w":-0.05},{"x":6.194,"y":5.504,"w":-0.05},{"x":6.224,"y":5.504,"w":-0.035},{"x":6.254,"y":5.504,"w":-0.055},{"x":6.284,"y":5.504,"w":-0.105},{"x":6.314,"y":5.504,"w":-0.105},{"x":6.344,"y":5.504,"w":-0.1},
{"x":6.224,"y":5.534,"w":-0.085},{"x":6.254,"y":5.534,"w":-0.12},{"x":6.284,"y":5.534,"w":-0.13}
]},"mark":{"type":"point","filled":true,"opacity":1,"size":272,"shape":"M-1 0L-0.5 -0.89L0.5 -0.89L1 0L0.5 0.89L-0.5 0.89Z"},"encoding":{"x":{"field":"x","type":"quantitative","scale":{"domain":[4.7,6.7],"nice":false,"zero":false},"axis":{"zindex":1,"orient":"bottom","values":[5,5.5,6,6.5],"title":"Distance (km)","tickSize":17,"labelPadding":15,"titlePadding":9}},"y":{"field":"y","type":"quantitative","scale":{"domain":[4.4,5.6],"nice":false,"zero":false},"axis":{"zindex":1,"orient":"left","values":[4.4,4.6,4.8,5,5.2,5.4,5.6],"title":"Distance (km)","tickSize":17,"labelPadding":18,"titlePadding":12}},"color":{"field":"w","type":"quantitative","legend":null,"scale":{"type":"linear","interpolate":"rgb","domain":[-0.2,-0.15,-0.1,-0.075,-0.05,0,0.05,0.1,0.15,0.2],"range":["#000087","#0000ff","#00aaff","#00ffff","#66ff88","#ffffff","#ffff00","#ff8000","#ff0000","#800000"]}}}},
{"data":{"values":[{"t":"0200 CET"}]},"mark":{"type":"text","align":"left","baseline":"alphabetic","fontSize":61.5,"font":"Liberation Sans","color":"#000000"},"encoding":{"text":{"field":"t"},"x":{"datum":4.8013,"type":"quantitative","scale":{"domain":[4.7,6.7],"nice":false,"zero":false},"axis":{"zindex":1,"orient":"top","values":[5,5.5,6,6.5],"labels":false,"title":null,"tickSize":16}},"y":{"datum":5.4765,"type":"quantitative","scale":{"domain":[4.4,5.6],"nice":false,"zero":false},"axis":{"zindex":1,"orient":"right","values":[4.4,4.6,4.8,5,5.2,5.4,5.6],"labels":false,"title":null,"tickSize":16}}}},
{"data":{"values":[
{"a":-0.2,"b":-0.19375,"c":-0.1969},{"a":-0.19375,"b":-0.1875,"c":-0.1906},{"a":-0.1875,"b":-0.18125,"c":-0.1844},{"a":-0.18125,"b":-0.175,"c":-0.1781},{"a":-0.175,"b":-0.16875,"c":-0.1719},{"a":-0.16875,"b":-0.1625,"c":-0.1656},{"a":-0.1625,"b":-0.15625,"c":-0.1594},{"a":-0.15625,"b":-0.15,"c":-0.1531},{"a":-0.15,"b":-0.14375,"c":-0.1469},{"a":-0.14375,"b":-0.1375,"c":-0.1406},{"a":-0.1375,"b":-0.13125,"c":-0.1344},{"a":-0.13125,"b":-0.125,"c":-0.1281},{"a":-0.125,"b":-0.11875,"c":-0.1219},{"a":-0.11875,"b":-0.1125,"c":-0.1156},{"a":-0.1125,"b":-0.10625,"c":-0.1094},{"a":-0.10625,"b":-0.1,"c":-0.1031},{"a":-0.1,"b":-0.09375,"c":-0.0969},{"a":-0.09375,"b":-0.0875,"c":-0.0906},{"a":-0.0875,"b":-0.08125,"c":-0.0844},{"a":-0.08125,"b":-0.075,"c":-0.0781},{"a":-0.075,"b":-0.06875,"c":-0.0719},{"a":-0.06875,"b":-0.0625,"c":-0.0656},{"a":-0.0625,"b":-0.05625,"c":-0.0594},{"a":-0.05625,"b":-0.05,"c":-0.0531},{"a":-0.05,"b":-0.04375,"c":-0.0469},{"a":-0.04375,"b":-0.0375,"c":-0.0406},{"a":-0.0375,"b":-0.03125,"c":-0.0344},{"a":-0.03125,"b":-0.025,"c":-0.0281},{"a":-0.025,"b":-0.01875,"c":-0.0219},{"a":-0.01875,"b":-0.0125,"c":-0.0156},{"a":-0.0125,"b":-0.00625,"c":-0.0094},{"a":-0.00625,"b":0,"c":0},{"a":0,"b":0.00625,"c":0},{"a":0.00625,"b":0.0125,"c":0.0094},{"a":0.0125,"b":0.01875,"c":0.0156},{"a":0.01875,"b":0.025,"c":0.0219},{"a":0.025,"b":0.03125,"c":0.0281},{"a":0.03125,"b":0.0375,"c":0.0344},{"a":0.0375,"b":0.04375,"c":0.0406},{"a":0.04375,"b":0.05,"c":0.0469},{"a":0.05,"b":0.05625,"c":0.0531},{"a":0.05625,"b":0.0625,"c":0.0594},{"a":0.0625,"b":0.06875,"c":0.0656},{"a":0.06875,"b":0.075,"c":0.0719},{"a":0.075,"b":0.08125,"c":0.0781},{"a":0.08125,"b":0.0875,"c":0.0844},{"a":0.0875,"b":0.09375,"c":0.0906},{"a":0.09375,"b":0.1,"c":0.0969},{"a":0.1,"b":0.10625,"c":0.1031},{"a":0.10625,"b":0.1125,"c":0.1094},{"a":0.1125,"b":0.11875,"c":0.1156},{"a":0.11875,"b":0.125,"c":0.1219},{"a":0.125,"b":0.13125,"c":0.1281},{"a":0.13125,"b":0.1375,"c":0.1344},{"a":0.1375,"b":0.14375,"c":0.1406},{"a":0.14375,"b":0.15,"c":0.1469},{"a":0.15,"b":0.15625,"c":0.1531},{"a":0.15625,"b":0.1625,"c":0.1594},{"a":0.1625,"b":0.16875,"c":0.1656},{"a":0.16875,"b":0.175,"c":0.1719},{"a":0.175,"b":0.18125,"c":0.1781},{"a":0.18125,"b":0.1875,"c":0.1844},{"a":0.1875,"b":0.19375,"c":0.1906},{"a":0.19375,"b":0.2,"c":0.1969}
]},"mark":{"type":"rect"},"encoding":{"x":{"datum":6.7527,"type":"quantitative","scale":{"domain":[4.7,6.7],"nice":false,"zero":false},"axis":null},"x2":{"datum":6.7805},"y":{"field":"a","type":"quantitative","scale":{"domain":[-0.2,0.2],"range":[912,-46],"nice":false,"zero":false},"axis":{"zindex":1,"orient":"right","offset":56,"domain":false,"values":[-0.2,-0.15,-0.1,-0.05,0,0.05,0.1,0.15,0.2],"title":null,"tickSize":-10,"labelPadding":29,"labelAlign":"left","labelOffset":-2}},"y2":{"field":"b"},"color":{"field":"c","type":"quantitative","legend":null}}},
{"data":{"values":[{"p":"frame"}]},"mark":{"type":"rect","fillOpacity":0,"stroke":"#262626","strokeWidth":4},"encoding":{"x":{"datum":6.7527,"type":"quantitative","scale":{"domain":[4.7,6.7],"nice":false,"zero":false},"axis":null},"x2":{"datum":6.7805},"y":{"datum":-0.2,"type":"quantitative","scale":{"domain":[-0.2,0.2],"range":[912,-46],"nice":false,"zero":false},"axis":null},"y2":{"datum":0.2}}},
{"data":{"values":[{"t":"w (m s"}]},"mark":{"type":"text","angle":270,"align":"left","baseline":"alphabetic","fontSize":48,"font":"Liberation Sans","color":"#262626"},"encoding":{"text":{"field":"t"},"x":{"datum":7.0359,"type":"quantitative","scale":{"domain":[4.7,6.7],"nice":false,"zero":false},"axis":null},"y":{"datum":4.868,"type":"quantitative","scale":{"domain":[4.4,5.6],"nice":false,"zero":false},"axis":null}}},
{"data":{"values":[{"t":"-1"}]},"mark":{"type":"text","angle":270,"align":"left","baseline":"alphabetic","fontSize":31,"font":"Liberation Sans","color":"#262626"},"encoding":{"text":{"field":"t"},"x":{"datum":7.0039,"type":"quantitative","scale":{"domain":[4.7,6.7],"nice":false,"zero":false},"axis":null},"y":{"datum":5.0639,"type":"quantitative","scale":{"domain":[4.4,5.6],"nice":false,"zero":false},"axis":null}}},
{"data":{"values":[{"t":")"}]},"mark":{"type":"text","angle":270,"align":"left","baseline":"alphabetic","fontSize":48,"font":"Liberation Sans","color":"#262626"},"encoding":{"text":{"field":"t"},"x":{"datum":7.0359,"type":"quantitative","scale":{"domain":[4.7,6.7],"nice":false,"zero":false},"axis":null},"y":{"datum":5.1028,"type":"quantitative","scale":{"domain":[4.4,5.6],"nice":false,"zero":false},"axis":null}}}
]}
